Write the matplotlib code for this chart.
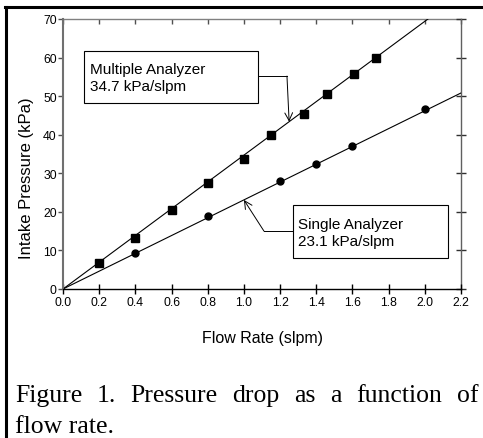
import matplotlib
matplotlib.use('Agg')
import matplotlib.pyplot as plt
from matplotlib.lines import Line2D
from matplotlib.patches import Rectangle

plt.rcParams['font.family'] = ['Liberation Sans', 'DejaVu Sans']

# ---- data ----
multi_x = [0.2, 0.4, 0.6, 0.8, 1.0, 1.15, 1.33, 1.46, 1.61, 1.73]
multi_y = [6.8, 13.3, 20.6, 27.6, 33.6, 40.0, 45.5, 50.6, 55.7, 60.0]
single_x = [0.4, 0.8, 1.2, 1.4, 1.6, 2.0]
single_y = [9.4, 18.8, 28.0, 32.3, 37.1, 46.6]
multi_slope = 34.7
single_slope = 23.1
fit_x = [0.0, 2.2]
x_ticks = [0.0, 0.2, 0.4, 0.6, 0.8, 1.0, 1.2, 1.4, 1.6, 1.8, 2.0, 2.2]
y_ticks = [0, 10, 20, 30, 40, 50, 60, 70]
x_label = 'Flow Rate (slpm)'
y_label = 'Intake Pressure (kPa)'
multi_text = 'Multiple Analyzer\n34.7 kPa/slpm'
single_text = 'Single Analyzer\n23.1 kPa/slpm'
caption_line1 = 'Figure 1. Pressure drop as a function of'
caption_line2 = 'flow rate.'

W, H = 483, 439
fig = plt.figure(figsize=(W / 100, H / 100), dpi=100)
ax = fig.add_axes([63 / W, (H - 290) / H, 398 / W, 270 / H])

ax.plot(fit_x, [multi_slope * x for x in fit_x], color='black', lw=0.8)
ax.plot(fit_x, [single_slope * x for x in fit_x], color='black', lw=0.8)
ax.plot(multi_x, multi_y, ls='none', marker='s', ms=6.2, color='black')
ax.plot(single_x, single_y, ls='none', marker='o', ms=5, color='black')

ax.set_xlim(0, 2.2)
ax.set_ylim(0, 70)
ax.set_xticks(x_ticks)
ax.set_xticklabels(['%.1f' % v for v in x_ticks])
ax.set_yticks(y_ticks)
ax.set_yticklabels([str(v) for v in y_ticks])

ax.spines['left'].set_color('#707070')
ax.spines['left'].set_linewidth(1.5)
ax.spines['bottom'].set_color('black')
ax.spines['bottom'].set_linewidth(1.0)
ax.spines['top'].set_visible(False)
ax.spines['right'].set_visible(False)

ax.tick_params(axis='x', direction='inout', length=7, width=1, labelsize=8.8, pad=1.5, color='black')
ax.tick_params(axis='y', direction='out', length=3.5, width=1, labelsize=8.8, pad=1, color='#505050')

secx = ax.secondary_xaxis('top')
secx.set_xticks(x_ticks)
secx.tick_params(direction='in', length=3.8, width=1, labeltop=False, color='#505050')
secx.spines['top'].set_color('#808080')
secx.spines['top'].set_linewidth(1.0)

secy = ax.secondary_yaxis('right')
secy.set_yticks(y_ticks)
secy.tick_params(direction='inout', length=7, width=1, labelright=False, color='#303030')
secy.spines['right'].set_color('#606060')
secy.spines['right'].set_linewidth(1.0)

ax.set_xlabel(x_label, fontsize=11.5)
ax.xaxis.set_label_coords(0.5, -0.150)
ax.xaxis.label.set_va('top')
ax.set_ylabel(y_label, fontsize=12)
ax.yaxis.set_label_coords(-0.073, 0.415)

# annotation boxes
ax.add_patch(Rectangle((0.116, 48.2), 1.078 - 0.116, 61.7 - 48.2, fill=False,
                       ec='black', lw=0.8, clip_on=False))
ax.text(0.149, 54.9, multi_text, ha='left', va='center', fontsize=11, linespacing=1.25)
ax.plot([1.078, 1.238], [55.2, 55.2], color='black', lw=0.7)
ax.annotate('', xy=(1.25, 1.25 * multi_slope), xytext=(1.238, 55.2),
            arrowprops=dict(arrowstyle='->', lw=0.7, color='black',
                            shrinkA=0, shrinkB=0, mutation_scale=14))

ax.add_patch(Rectangle((1.271, 8.04), 2.128 - 1.271, 21.8 - 8.04, fill=False,
                       ec='black', lw=0.8, clip_on=False))
ax.text(1.299, 14.7, single_text, ha='left', va='center', fontsize=11, linespacing=1.25)
ax.plot([1.271, 1.111], [15.0, 15.0], color='black', lw=0.7)
ax.annotate('', xy=(1.0, 1.0 * single_slope), xytext=(1.111, 15.0),
            arrowprops=dict(arrowstyle='->', lw=0.7, color='black',
                            shrinkA=0, shrinkB=0, mutation_scale=14))

# outer frame (left and top)
fig.add_artist(Line2D([6 / W, 6 / W], [0, 1 - 8 / H], transform=fig.transFigure,
                      color='black', lw=2.2))
fig.add_artist(Line2D([5 / W, 1], [1 - 8 / H, 1 - 8 / H], transform=fig.transFigure,
                      color='black', lw=2.2))

# caption, justified first line
serif = ['Liberation Serif', 'DejaVu Serif']
cap_size = 18.5
renderer = fig.canvas.get_renderer()
words = caption_line1.split(' ')
left_px, right_px = 15, 478
y1 = (H - 401.7) / H
y2 = (H - 432.7) / H
texts = [fig.text(0, y1, w, family=serif, fontsize=cap_size, va='baseline', ha='left')
         for w in words]
widths = [t.get_window_extent(renderer).width for t in texts]
gap = (right_px - left_px - sum(widths)) / (len(words) - 1)
xpos = left_px
for t, w in zip(texts, widths):
    t.set_x(xpos / W)
    xpos += w + gap
fig.text(left_px / W, y2, caption_line2, family=serif, fontsize=cap_size,
         va='baseline', ha='left')

fig.savefig('out.png', dpi=100)
